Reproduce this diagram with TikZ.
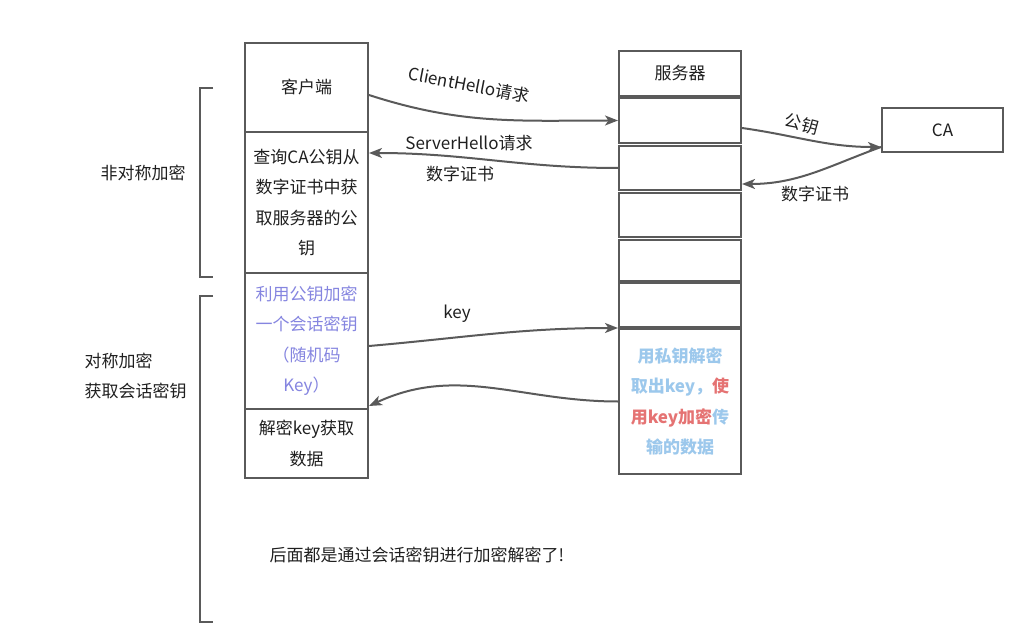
\documentclass[tikz,border=0pt]{standalone}
\usepackage{fontspec}
\setmainfont{Noto Sans CJK SC}
\usetikzlibrary{arrows.meta}
\definecolor{linegray}{HTML}{5A5A5A}
\definecolor{txtpurple}{HTML}{8585E0}
\definecolor{txtblue}{HTML}{9CC8EC}
\definecolor{txtred}{HTML}{E57373}
\newcommand{\drawbracket}[2]{%
	\draw[bracket] (213,#1) -- (200,#1) -- (200,#2) -- (213,#2);
}
\tikzset{
	box/.style={draw=linegray, line width=2pt, inner sep=0pt, align=center, fill=white},
	flow/.style={draw=linegray, line width=2pt, -{Stealth[length=13pt,width=10pt,inset=3.5pt]}},
	bracket/.style={draw=linegray, line width=2pt},
	lbl/.style={inner sep=1pt},
}

\begin{document}
\begin{tikzpicture}[x=1pt, y=-1pt, font=\fontsize{17pt}{30.5pt}\selectfont, text=black!88]
	\useasboundingbox (0,0) rectangle (1009,639);
	% client column
	\node[box, minimum width=123pt, minimum height=89pt] (cli) at (306.5,87.5) {客户端};
	\node[box, minimum width=123pt, minimum height=141pt] (query) at (306.5,202.5)
		{查询CA公钥从\\数字证书中获\\取服务器的公\\钥};
	\node[box, minimum width=123pt, minimum height=136pt, text=txtpurple] (enc) at (306.5,341)
		{利用公钥加密\\一个会话密钥\\（随机码\\Key）};
	\node[box, minimum width=123pt, minimum height=69pt] (dec) at (306.5,443.5)
		{解密key获取\\数据};
	% server column
	\node[box, minimum width=122pt, minimum height=45pt] (srv) at (680,73.5) {服务器};
	\foreach \y/\h [count=\i] in {120.5/45, 168/44, 215/44, 260.5/41, 305/44}{
		\node[box, minimum width=122pt, minimum height=\h pt] (s\i) at (680,\y) {};}
	\node[box, minimum width=122pt, minimum height=145pt, font=\fontsize{17pt}{30.5pt}\selectfont\bfseries] (s6) at (680,401.5)
		{\textcolor{txtblue}{用私钥解密}\\\textcolor{txtblue}{取出key，}\textcolor{txtred}{使}\\\textcolor{txtred}{用key加密}\textcolor{txtblue}{传}\\\textcolor{txtblue}{输的数据}};
	\node[box, minimum width=121pt, minimum height=44pt] (ca) at (942.5,130) {CA};
	% messages
	\draw[flow] ([yshift=-7.5pt]cli.east) to[out=-18, in=180] (s1.west);
	\draw[flow] (s2.west) to[out=180, in=0] ([yshift=-22pt]query.north east);
	\draw[flow] ([yshift=-7.5pt]s1.east) to[out=-8, in=180] ([yshift=6pt]ca.south west);
	\draw[flow] ([yshift=6pt]ca.south west) to[out=200, in=0] ([yshift=7pt]s2.south east);
	\draw[flow] ([yshift=-5pt]enc.east) to[out=5, in=180] (s5.south west);
	\draw[flow] (s6.west) to[out=180, in=25] ([yshift=4pt]enc.south east);
	\node[lbl, rotate=-11] (chlbl) at (469,85) {ClientHello请求};
	\node[lbl] (shlbl) at (469,143) {ServerHello请求};
	\node[lbl] (certlbl) at (460,174) {数字证书};
	\node[lbl, rotate=-15] (pklbl) at (802,124) {公钥};
	\node[lbl] (calbl) at (815,194) {数字证书};
	\node[lbl] (keylbl) at (457,314) {key};
	% phases
	\drawbracket{88}{277}
	\drawbracket{296}{622}
	\node (asym) at (143,173) {非对称加密};
	\node[anchor=west, align=left] (sym) at (81,376) {对称加密\\获取会话密钥};
	\node[anchor=west] (note) at (266,555) {后面都是通过会话密钥进行加密解密了!};
\end{tikzpicture}
\end{document}
